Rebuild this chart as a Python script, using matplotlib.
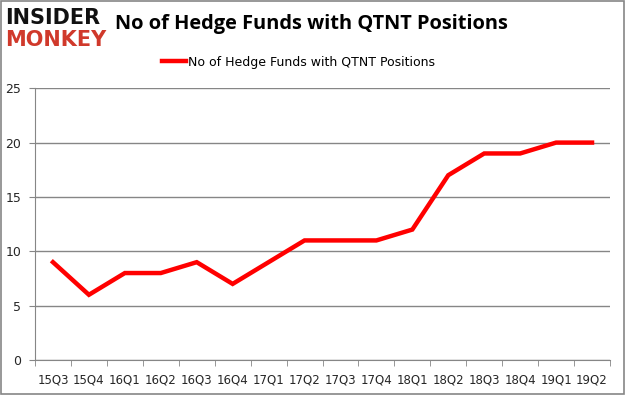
import matplotlib
matplotlib.use("Agg")
import matplotlib.pyplot as plt
from matplotlib.patches import Rectangle

quarters = ["15Q3", "15Q4", "16Q1", "16Q2", "16Q3", "16Q4", "17Q1", "17Q2",
            "17Q3", "17Q4", "18Q1", "18Q2", "18Q3", "18Q4", "19Q1", "19Q2"]
funds = [9, 6, 8, 8, 9, 7, 9, 11, 11, 11, 12, 17, 19, 19, 20, 20]
yticks = [0, 5, 10, 15, 20, 25]

fig = plt.figure(figsize=(6.25, 3.95), dpi=100)
fig.patch.set_facecolor("white")
fig.patches.append(Rectangle((0.0016, 0.0025), 0.9968, 0.995, transform=fig.transFigure,
                             fill=False, edgecolor="#868686", linewidth=1.2))

ax = fig.add_axes([0.056, 0.0886, 0.92, 0.688])
x = list(range(len(quarters)))
line, = ax.plot(x, funds, color="#ff0000", linewidth=3.2, solid_joinstyle="miter",
                label="No of Hedge Funds with QTNT Positions")
ax.set_xlim(-0.5, len(quarters) - 0.5)
ax.set_ylim(0, 25)
ax.set_yticks(yticks)
ax.set_yticklabels([str(v) for v in yticks], fontsize=9, color="#262626")
ax.set_xticks(x)
ax.set_xticklabels(quarters, fontsize=8.5, color="#262626")
ax.set_xticks([i - 0.5 for i in range(len(quarters) + 1)], minor=True)
ax.tick_params(axis="x", which="major", length=0, pad=10)
ax.tick_params(axis="x", which="minor", length=4, color="#868686")
ax.tick_params(axis="y", length=4, color="#868686", pad=6)
ax.yaxis.grid(True, color="#868686", linewidth=1)
ax.set_axisbelow(True)
for s in ["top", "right"]:
    ax.spines[s].set_visible(False)
for s in ["left", "bottom"]:
    ax.spines[s].set_color("#868686")

fig.text(0.184, 0.94, "No of Hedge Funds with QTNT Positions", fontsize=14.4,
         fontweight="bold", family="Open Sans", va="center", ha="left", color="black")
fig.text(0.008, 0.954, "INSIDER", fontsize=15, fontweight="heavy", family="DejaVu Sans",
         va="center", ha="left", color="#111111")
fig.text(0.008, 0.899, "MONKEY", fontsize=15, fontweight="heavy", family="DejaVu Sans",
         va="center", ha="left", color="#d0392b")

leg = fig.legend(handles=[line], loc="center", bbox_to_anchor=(0.478, 0.843), frameon=False,
                 fontsize=9, handlelength=1.9, handletextpad=0.15)

fig.savefig("out.png", dpi=100)
